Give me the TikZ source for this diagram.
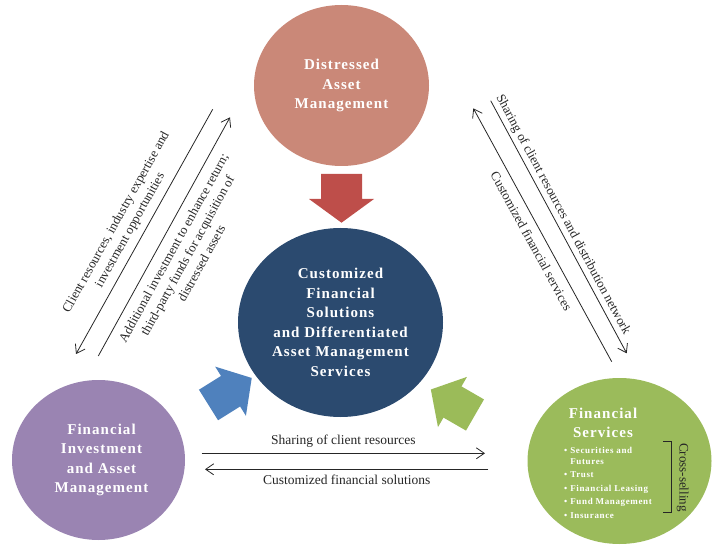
\documentclass[tikz,border=0pt]{standalone}
\usepackage{fontspec}
\setmainfont{Liberation Serif}
\newfontfamily\spacedserif[LetterSpace=7]{Liberation Serif}
\usetikzlibrary{arrows.meta,shapes.geometric}

\definecolor{distressed}{HTML}{CA8878}
\definecolor{corecol}{HTML}{2B4A6F}
\definecolor{investcol}{HTML}{9A84B2}
\definecolor{servicecol}{HTML}{9BBB5B}
\definecolor{redarrow}{HTML}{BE4E4A}
\definecolor{bluearrow}{HTML}{4F81BD}
\definecolor{greenarrow}{HTML}{9BBB59}

\begin{document}
\begin{tikzpicture}[x=1pt,y=-1pt,
  >={Straight Barb[length=8pt,width=11pt]},
  bubble/.style={ellipse, inner sep=0pt, text=white, align=center,
    font=\spacedserif\bfseries\fontsize{15}{19.5}\selectfont},
  flow/.style={line width=0.8pt, draw=black!85},
  lbl/.style={inner sep=1pt, align=center, text=black!85,
    font=\fontsize{13}{16}\selectfont},
  hlbl/.style={inner sep=1pt, text=black!85,
    font=\fontsize{13.5}{16}\selectfont},
  items/.style={inner sep=0pt, text=white,
    font=\spacedserif\bfseries\fontsize{9}{11}\selectfont}
]
\useasboundingbox (0,0) rectangle (723,545);

% the four business circles
\node[bubble, fill=distressed, minimum width=175, minimum height=161]
  (dam) at (341.5,85.5) {Distressed\\Asset\\Management};
\node[bubble, fill=corecol, minimum width=205, minimum height=189]
  (core) at (340.5,322.5) {Customized\\Financial\\Solutions\\and Differentiated\\Asset Management\\Services};
\node[bubble, fill=investcol, minimum width=173, minimum height=160]
  (fiam) at (98.5,460) {};
\node[bubble] (fiamtext) at (101.5,460) {Financial\\Investment\\and Asset\\Management};
\node[bubble, fill=servicecol, minimum width=184, minimum height=166]
  (fs) at (619.5,461) {};

% contents of the financial services circle
\node[bubble] (fstitle) at (603,423) {Financial\\Services};
\node[items, anchor=north west] (fslist) at (564,445.5) {%
  \begin{tabular}{@{}l@{\hspace{3pt}}l@{}}
  \textbullet & Securities and\\
              & Futures\\[2.5pt]
  \textbullet & Trust\\[2.5pt]
  \textbullet & Financial Leasing\\[2.5pt]
  \textbullet & Fund Management\\[2.5pt]
  \textbullet & Insurance
  \end{tabular}};
\coordinate (brtop) at (663,441.7);
\coordinate (brbot) at (663,512.7);
\draw[line width=0.9pt, black!85] (brtop) -- ++(8.7,0) |- (brbot);
\node[rotate=-90, inner sep=0pt, text=black!85, font=\fontsize{13}{15}\selectfont]
  (xsell) at (682.7,477.5) {Cross-selling};

% block arrows pointing into the core circle
\begin{scope}[shift={(341.5,174)}, rotate=-90]
  \fill[redarrow] (0,-20.5) -- (25,-20.5) -- (25,-32.5) -- (48.7,0)
    -- (25,32.5) -- (25,20.5) -- (0,20.5) -- cycle;
\end{scope}
\begin{scope}[shift={(208.5,405)}, rotate=32]
  \fill[bluearrow] (0,-18) -- (26,-18) -- (26,-29) -- (51,0)
    -- (26,29) -- (26,18) -- (0,18) -- cycle;
\end{scope}
\begin{scope}[shift={(475,415)}, rotate=150]
  \fill[greenarrow] (0,-18) -- (26,-18) -- (26,-29) -- (51,0)
    -- (26,29) -- (26,18) -- (0,18) -- cycle;
\end{scope}

% flows between distressed asset management and financial investment
\coordinate (l1lo) at (76,354);
\coordinate (l1hi) at (212.7,109.3);
\coordinate (l2lo) at (98.3,356);
\coordinate (l2hi) at (230,117.3);
\draw[flow,<-] (l1lo) -- node[lbl, sloped, above=5.5pt, pos=0.48]
  {Client resources, industry expertise and\\investment opportunities} (l1hi);
\draw[flow,->] (l2lo) -- node[lbl, sloped, below=7.5pt, pos=0.48]
  {Additional investment to enhance return;\\third-party funds for acquisition of\\distressed assets} (l2hi);

% flows between distressed asset management and financial services
\coordinate (r1hi) at (490.7,100.7);
\coordinate (r1lo) at (626.7,353.3);
\coordinate (r2hi) at (473.3,108.3);
\coordinate (r2lo) at (611.7,361.7);
\draw[flow,->] (r1hi) -- node[lbl, sloped, above=2pt, pos=0.47]
  {Sharing of client resources and distribution network} (r1lo);
\draw[flow,<-] (r2hi) -- node[lbl, sloped, below=6.5pt, pos=0.5]
  {Customized financial services} (r2lo);

% flows between financial investment and financial services
\coordinate (b1l) at (201.7,453.3);
\coordinate (b1r) at (485,453.3);
\coordinate (b2r) at (488.3,469.3);
\coordinate (b2l) at (205,469.3);
\draw[flow,->] (b1l) -- node[hlbl, above=4pt] {Sharing of client resources} (b1r);
\draw[flow,->] (b2r) -- node[hlbl, below=4pt] {Customized financial solutions} (b2l);
\end{tikzpicture}
\end{document}
